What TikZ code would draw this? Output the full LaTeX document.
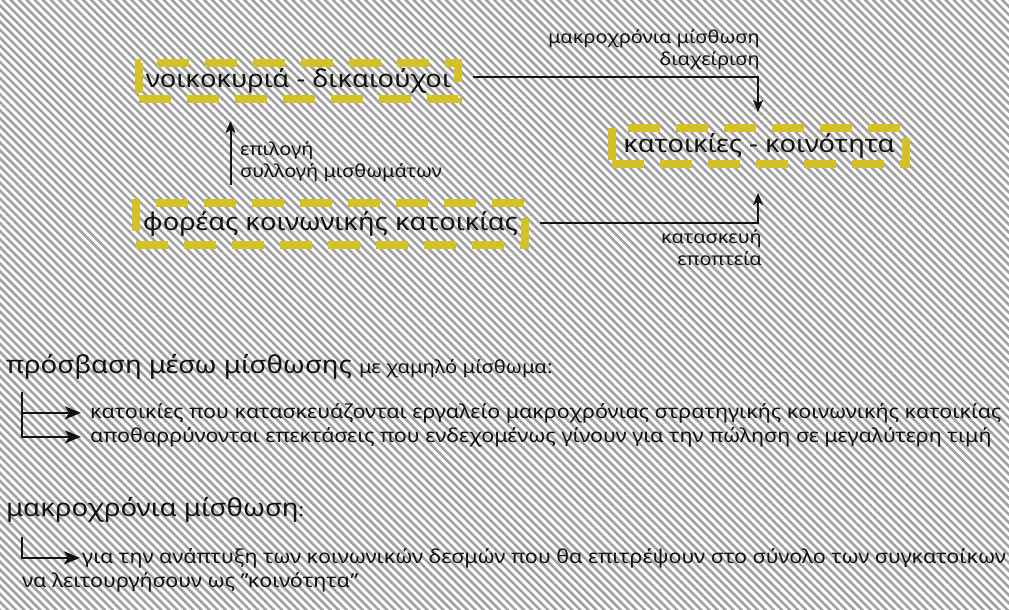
\documentclass[tikz,border=0pt]{standalone}
\usepackage{fontspec}
\setmainfont{Noto Sans}[FakeStretch=1.12]
\usetikzlibrary{patterns.meta,arrows.meta,calc}
\definecolor{boxy}{RGB}{212,193,40}
\definecolor{stripe}{RGB}{160,160,160}
\definecolor{ink}{RGB}{17,17,17}
\begin{document}
\begin{tikzpicture}[x=1pt,y=-1pt,
  ybox/.style={draw=boxy, line width=8pt, dash pattern=on 32pt off 16pt, inner sep=0pt, text=ink, font=\fontsize{24.4}{28}\selectfont},
  arr/.style={draw=ink, line width=2pt, -{Stealth[length=12pt,width=10pt,inset=3pt]}},
  arrb/.style={draw=ink, line width=2.5pt, -{Stealth[length=16pt,width=13pt,inset=4pt]}},
  lbl/.style={inner sep=0pt, text=ink, font=\fontsize{17.8}{22.5}\selectfont},
  head/.style={anchor=base west, inner sep=0pt, text=ink, font=\fontsize{24.6}{28}\selectfont},
  body/.style={anchor=base west, inner sep=0pt, text=ink, font=\fontsize{19.2}{24}\selectfont}
]
\useasboundingbox (0,0) rectangle (1009,610);
\fill[white] (0,0) rectangle (1009,610);
\pattern[pattern={Lines[angle=-45,distance=5.7pt,line width=2.6pt]}, pattern color=stripe] (0,0) rectangle (1009,610);

\node[ybox, minimum width=319pt, minimum height=36pt] (n1) at (298.5,81) {νοικοκυριά - δικαιούχοι};
\node[ybox, minimum width=294pt, minimum height=36pt] (n2) at (759,146) {κατοικίες - κοινότητα};
\node[ybox, minimum width=389pt, minimum height=42pt] (n3) at (330.5,224) {φορέας κοινωνικής κατοικίας};

\node[lbl, align=right, anchor=north east] (l1) at (760,29) {μακροχρόνια μίσθωση\\διαχείριση};
\node[lbl, align=right, anchor=north east] (l2) at (762,229) {κατασκευή\\εποπτεία};
\node[lbl, align=left, anchor=north west] (l3) at (240,141) {επιλογή\\συλλογή μισθωμάτων};

\draw[arr] ($(n1.east)+(11,-4)$) -| ($(n2.north)+(-1,-12)$);
\draw[arr] ($(n3.east)+(11,-1)$) -| ($(n2.south)+(-1,25)$);
\draw[arr] ($(n3.north)+(-100,-14)$) -- ($(n3.north |- n1.south)+(-100,18)$);

\node[head] (h1) at (6,373) {πρόσβαση μέσω μίσθωσης {\fontsize{18}{20}\selectfont με χαμηλό μίσθωμα:}};
\node[body] (t1) at (90,418) {κατοικίες που κατασκευάζονται εργαλείο μακροχρόνιας στρατηγικής κοινωνικής κατοικίας};
\node[body] (t2) at (90,442) {αποθαρρύνονται επεκτάσεις που ενδεχομένως γίνουν για την πώληση σε μεγαλύτερη τιμή};
\coordinate (c1) at (22,392);
\draw[arrb] (c1) |- ($(t1.west)+(-9,0)$);
\draw[arrb] (c1) |- ($(t2.west)+(-9,0)$);

\node[head] (h2) at (6,516) {μακροχρόνια μίσθωση{\fontsize{18}{20}\selectfont :}};
\node[body] (t3) at (82,563) {για την ανάπτυξη των κοινωνικών δεσμών που θα επιτρέψουν στο σύνολο των συγκατοίκων};
\node[body] (t4) at (22,587) {να λειτουργήσουν ως \symbol{"22}κοινότητα\symbol{"22}};
\coordinate (c2) at (22,537);
\draw[arrb] (c2) |- ($(t3.west)+(-2,0)$);
\end{tikzpicture}
\end{document}
